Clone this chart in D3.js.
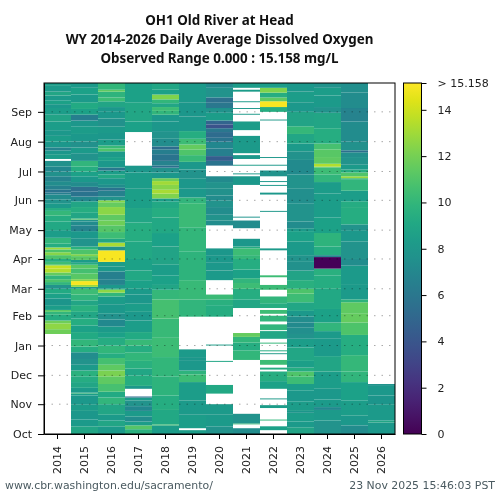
<!DOCTYPE html>
<html>
<head>
<meta charset="utf-8">
<script src="https://cdn.jsdelivr.net/npm/d3@7"></script>
<style>
body { margin: 0; background: #fff; }
svg text { font-family: "DejaVu Sans", sans-serif; fill: #222; }
</style>
</head>
<body>
<div id="chart"></div>
<script>
const titleLines = ["OH1 Old River at Head", "WY 2014-2026 Daily Average Dissolved Oxygen", "Observed Range 0.000 : 15.158 mg/L"]
const footerLeft = "www.cbr.washington.edu/sacramento/"
const footerRight = "23 Nov 2025 15:46:03 PST"

const years = [2014, 2015, 2016, 2017, 2018, 2019, 2020, 2021, 2022, 2023, 2024, 2025, 2026]
const monthNames = ["Oct", "Nov", "Dec", "Jan", "Feb", "Mar", "Apr", "May", "Jun", "Jul", "Aug", "Sep"]
const monthStarts = [0, 31, 61, 92, 123, 151, 182, 212, 243, 273, 304, 335]
const colorTicks = [0, 2, 4, 6, 8, 10, 12, 14]
const maxValue = 15.158

// [day of water year the run starts, mg/L], null = no data, a run ends where the next one starts
const wy2014 = [[0,null],[104,11.8],[109,12.6],[115,11.8],[118,9.4],[124,9.9],[127,11.2],[129,8.4],[134,7.9],[141,8.6],[146,9.2],[151,7.8],[155,9.9],[158,10.9],[161,9.9],[165,11.5],[168,13.4],[172,13.8],[175,12.6],[176,10.4],[179,9.4],[182,10.9],[186,12.4],[189,10.9],[192,13],[194,9.4],[198,9.9],[204,8.4],[212,9.1],[221,9.4],[227,10.1],[232,9.4],[235,8.2],[240,7.8],[244,7.3],[249,6.4],[251,5.8],[254,6.6],[258,7.4],[263,6.8],[268,7.6],[273,7],[278,7.6],[284,null],[286,8.4],[291,8],[295,6.8],[298,8],[304,8.4],[310,8.1],[316,8.4],[325,8.8],[332,8.4],[339,8.1],[343,8.7],[347,8.2],[352,8.9],[356,8.2],[362,8.4]]
const wy2015 = [[0,8.9],[8,8.2],[15,8],[24,8.3],[31,8.1],[40,8.3],[42,10.1],[43,8.2],[48,8.9],[54,9.3],[60,9.7],[66,8.2],[72,7.8],[78,7.4],[85,9.4],[91,10],[98,9.2],[106,8.7],[113,9.4],[120,9],[127,9.6],[134,8.9],[139,9.9],[145,10.4],[151,8.4],[153,12.8],[155,15],[159,12.4],[161,11.2],[167,10.6],[172,11.2],[176,9.4],[178,8.3],[181,11.2],[185,12.2],[187,10.9],[192,9.7],[195,7.8],[203,8.1],[211,6.8],[217,7.3],[221,7.8],[223,11.4],[224,8.9],[230,9.4],[236,8.9],[242,7],[247,5.8],[252,5.5],[257,7.3],[262,8.1],[268,8.6],[273,9.4],[278,9.9],[284,7.8],[292,8.2],[298,7.6],[304,8.1],[312,8.3],[320,8],[326,6.4],[332,8.7],[338,9.2],[345,8.2],[353,8.6],[360,8.2]]
const wy2016 = [[0,8.2],[8,8.9],[14,8.2],[20,8.9],[31,9.9],[38,9.2],[44,10.7],[52,11.4],[60,12.1],[66,11.4],[72,10.6],[79,9.4],[84,10],[92,9.3],[100,8.6],[106,8.2],[112,7.1],[119,7.6],[125,8.1],[135,8.3],[143,10],[147,12.6],[150,10.4],[151,8.1],[155,6.8],[161,6.5],[169,8.1],[174,8.4],[179,15],[191,7.8],[195,13.2],[199,9],[203,10.4],[210,11.1],[217,11.8],[222,11.4],[228,12.5],[236,11.6],[241,12.4],[243,7.8],[247,6.6],[253,5.8],[256,7.3],[259,8],[266,9.1],[270,8.4],[274,6],[277,8.1],[284,8.6],[288,8.2],[294,11],[297,10.2],[300,8.4],[306,8],[313,8.2],[320,7.6],[328,8.1],[335,8.1],[340,8.9],[346,10.4],[350,9.8],[356,11.4],[358,10]]
const wy2017 = [[0,9.6],[5,11.1],[9,8.4],[13,7.4],[18,8.2],[24,7],[29,7.8],[35,8.2],[38,5.3],[39,null],[47,8.1],[50,9.4],[61,9],[68,9.6],[76,10],[85,9.4],[92,10.2],[98,9.2],[106,8.4],[118,8.1],[127,8.4],[136,8],[145,8.2],[151,8.6],[160,9.1],[170,8.7],[182,9.1],[200,9.4],[220,9],[235,8.5],[255,8.3],[272,8],[279,null],[314,8.6],[325,9],[345,8.7]]
const wy2018 = [[0,8.3],[9,10.9],[10,9.1],[25,9.4],[40,9.8],[60,10],[80,10.4],[100,10.2],[120,10.6],[140,10.1],[150,8.9],[155,8.6],[165,8.4],[176,8.8],[195,8.6],[209,9.1],[225,9.4],[235,9.1],[242,8.4],[245,12.2],[250,13.2],[254,12.4],[259,13],[263,11.8],[266,8.1],[272,7.6],[277,5.4],[279,6.8],[284,5.8],[291,6.4],[296,5.3],[299,7.4],[307,7.8],[315,8],[325,8.1],[332,9.9],[336,10.4],[340,9],[344,10],[348,12.2],[353,8.6],[358,9]]
const wy2019 = [[0,8.4],[4,null],[6,8.4],[20,8.2],[35,8.4],[54,10.4],[62,9.8],[66,8.1],[76,8],[80,8.2],[88,null],[122,9.9],[140,10.2],[160,9.8],[190,10],[215,10.3],[240,9.9],[246,8.1],[255,8],[266,7.8],[275,8.1],[283,10.2],[290,11],[296,11.6],[301,10.4],[307,9.4],[315,8.1],[330,8],[345,8.2]]
const wy2020 = [[0,7.8],[8,8.2],[20,8.2],[31,null],[42,9.1],[51,null],[75,9],[76,null],[92,8.4],[93,null],[122,9.4],[134,9.6],[140,10.3],[145,null],[160,8.2],[170,8.1],[178,8.1],[186,8],[193,null],[217,7.4],[222,7.8],[228,7.4],[236,7.8],[243,7.3],[248,7.6],[255,7.8],[262,7.2],[268,null],[279,5.8],[284,4.4],[289,6.5],[297,7],[304,5.8],[308,5.3],[314,6],[318,3.8],[322,4.9],[326,8.4],[334,7.8],[339,6],[345,5.5],[350,7.8],[360,7.2]]
const wy2021 = [[0,7.4],[6,null],[10,10.4],[11,7.8],[21,null],[77,10],[87,9.4],[95,10],[101,11.6],[105,null],[131,9],[140,9.4],[151,10.4],[157,9.9],[162,8.7],[171,9.4],[182,10.1],[186,10.4],[193,9.4],[195,8],[203,null],[214,7.3],[222,null],[225,7.8],[226,null],[259,8.1],[268,null],[270,8.2],[271,null],[279,8.3],[280,null],[286,8.1],[290,null],[292,8.2],[310,null],[316,8.3],[325,null],[332,8.2],[333,null],[338,8.1],[339,null],[345,8.2],[346,null],[356,8.3],[358,null],[360,8.3]]
const wy2022 = [[0,null],[4,8.6],[8,null],[14,10],[15,null],[27,8.3],[30,null],[36,8.2],[37,null],[47,8.7],[55,9.4],[65,null],[67,9.4],[69,null],[72,10.4],[77,null],[83,8.4],[84,null],[86,9.4],[87,null],[94,10.1],[95,null],[99,9],[107,null],[108,9.9],[114,null],[117,9.9],[123,null],[125,10.4],[129,null],[131,9.4],[136,9.9],[143,null],[150,10.3],[155,null],[163,10.4],[165,null],[191,8.2],[193,null],[231,8.1],[232,null],[249,8.1],[251,null],[258,8.1],[259,null],[262,8.1],[263,null],[268,7.8],[274,null],[279,8.1],[280,null],[287,8.1],[288,null],[326,8.2],[327,null],[335,9.4],[340,15],[346,11.4],[350,9.4],[355,12.2],[360,8.4]]
const wy2023 = [[0,8.8],[7,8.2],[13,8.4],[22,7.9],[24,8.3],[34,8.1],[45,8.4],[52,10.4],[60,11],[65,9.4],[69,8.5],[76,9],[90,8.4],[99,7.8],[104,7.5],[111,7.2],[116,7.4],[122,8.1],[128,9],[137,10.4],[146,10.9],[151,9.6],[160,8.8],[170,7.6],[179,7.8],[186,8.2],[200,8.6],[211,8.2],[214,7.3],[221,7.8],[240,7.5],[255,7.8],[270,7.2],[285,7.7],[294,8.2],[302,9],[312,10.1],[320,8.8],[335,8.1],[345,8.4],[356,8.1]]
const wy2024 = [[0,7.8],[14,8.2],[25,7.1],[28,8.2],[36,8.1],[47,8.4],[65,8.9],[81,8.2],[99,8.2],[107,9.9],[116,8.7],[130,9.1],[151,9.4],[165,9.6],[172,0.2],[184,6.8],[186,9.4],[195,9.8],[209,8.7],[225,8.4],[250,8.3],[262,9.9],[270,10.4],[277,10.8],[278,13.4],[281,11.4],[288,11.2],[296,10.7],[302,9.4],[318,8.9],[334,7.8],[340,8.2],[352,8.4],[360,7.8]]
const wy2025 = [[0,7.3],[9,8.1],[19,8.4],[35,8.6],[54,9.9],[65,10.1],[82,9.4],[103,10.9],[116,11.6],[125,11.4],[137,9.8],[140,8.2],[155,8.2],[175,7.4],[182,7.8],[200,8.1],[212,7.8],[218,9.4],[236,9.3],[242,8.4],[253,9.9],[265,9.7],[266,12.8],[268,11],[272,9.4],[275,8.2],[280,7.8],[288,7.5],[293,5.4],[295,7.6],[304,7.3],[325,6.8],[339,7.3],[355,7.5]]
const wy2026 = [[0,8.1],[12,8.9],[14,8.2],[31,7.9],[40,8.1],[50,7.8],[52,null]]
const seriesByYear = [wy2014, wy2015, wy2016, wy2017, wy2018, wy2019, wy2020, wy2021, wy2022, wy2023, wy2024, wy2025, wy2026]

var margin = {top: 83, left: 44, right: 105, bottom: 66}
var width = 500
var height = 500
var plotRight = width - margin.right
var plotBottom = height - margin.bottom

var xScale = d3.scaleBand()
                .domain(years)
                .range([margin.left, plotRight])

var yScale = d3.scaleLinear()
                .domain([0, 365])
                .range([plotBottom, margin.top])

var colorScale = d3.scaleSequential(d3.interpolateViridis)
                .domain([0, maxValue])

var svg = d3.select("#chart")
            .append("svg")
            .attr("width", width)
            .attr("height", height)

var defs = svg.append("defs")

// the original image is smoothed a little along the days
var smooth = defs.append("filter")
    .attr("id", "smooth")
    .attr("x", 0).attr("y", 0).attr("width", 1).attr("height", 1)
smooth.append("feGaussianBlur").attr("stdDeviation", "0 0.5")

var heat = svg.append("g").attr("filter", "url(#smooth)")

years.forEach(function(year, i) {
    var runs = seriesByYear[i].map(function(x, j, all) {
        return {start: x[0], end: j + 1 < all.length ? all[j + 1][0] : 365, value: x[1]}
    }).filter(x => x.value !== null)

    heat.append("g")
        .selectAll("rect")
        .data(runs)
        .enter()
        .append("rect")
        .attr("x", xScale(year))
        .attr("width", xScale.bandwidth())
        .attr("y", d => yScale(d.end))
        .attr("height", d => yScale(d.start) - yScale(d.end))
        .attr("fill", d => colorScale(d.value))
})

// month grid, dark on the colours and pale on the white
svg.append("g")
    .selectAll("line")
    .data(monthStarts.slice(1))
    .enter()
    .append("line")
    .attr("x1", margin.left)
    .attr("x2", plotRight)
    .attr("y1", d => yScale(d))
    .attr("y2", d => yScale(d))
    .attr("stroke", "#a8a8a8")
    .attr("stroke-width", 1)
    .attr("stroke-dasharray", "1.5,6")
    .style("mix-blend-mode", "multiply")

var xAxis = svg.append("g")
    .attr("transform", "translate(0," + plotBottom + ")")
    .call(d3.axisBottom(xScale).tickSize(5).tickSizeOuter(0))
xAxis.selectAll("text")
    .attr("transform", "rotate(-90)")
    .attr("x", -12)
    .attr("y", 0)
    .attr("dy", "0.35em")
    .style("text-anchor", "end")

var yAxis = svg.append("g")
    .attr("transform", "translate(" + margin.left + ",0)")
    .call(d3.axisLeft(yScale)
        .tickValues(monthStarts)
        .tickFormat((d, i) => monthNames[i])
        .tickSize(6)
        .tickSizeOuter(0)
        .tickPadding(6))

svg.append("rect")
    .attr("x", margin.left)
    .attr("y", margin.top)
    .attr("width", plotRight - margin.left)
    .attr("height", plotBottom - margin.top)
    .attr("fill", "none")
    .attr("stroke", "#000")

// colour bar
var barLeft = 403.5
var barWidth = 18
var barScale = d3.scaleLinear()
                .domain([0, maxValue])
                .range([plotBottom, margin.top])

var gradient = defs.append("linearGradient")
    .attr("id", "viridis")
    .attr("x1", 0).attr("x2", 0).attr("y1", 1).attr("y2", 0)
gradient.selectAll("stop")
    .data(d3.range(0, 1.01, 0.05))
    .enter()
    .append("stop")
    .attr("offset", d => d)
    .attr("stop-color", d => d3.interpolateViridis(d))

svg.append("rect")
    .attr("x", barLeft)
    .attr("y", margin.top)
    .attr("width", barWidth)
    .attr("height", plotBottom - margin.top)
    .attr("fill", "url(#viridis)")
    .attr("stroke", "#000")

var barAxis = svg.append("g")
    .attr("transform", "translate(" + (barLeft + barWidth) + ",0)")
    .call(d3.axisRight(barScale)
        .tickValues(colorTicks.concat([maxValue]))
        .tickFormat(d => d === maxValue ? "> 15.158" : d)
        .tickSize(5)
        .tickPadding(11))
barAxis.select(".domain").remove()
svg.selectAll(".tick text").style("font-size", "11px").style("fill", "#222")
svg.selectAll(".domain").attr("stroke", "#000")

svg.append("g")
    .selectAll("text")
    .data(titleLines)
    .enter()
    .append("text")
    .attr("x", 219.5)
    .attr("y", (d, i) => 25 + i * 19)
    .attr("text-anchor", "middle")
    .style("font-family", "'Noto Sans', sans-serif")
    .style("font-size", "13.4px")
    .style("font-weight", "bold")
    .style("fill", "#111")
    .text(d => d)

svg.append("text")
    .attr("x", 5)
    .attr("y", 489)
    .style("font-size", "10.9px")
    .style("fill", "#4a5a60")
    .text(footerLeft)

svg.append("text")
    .attr("x", 495)
    .attr("y", 489)
    .attr("text-anchor", "end")
    .style("font-size", "10.9px")
    .style("fill", "#4a5a60")
    .text(footerRight)
</script>
</body>
</html>
